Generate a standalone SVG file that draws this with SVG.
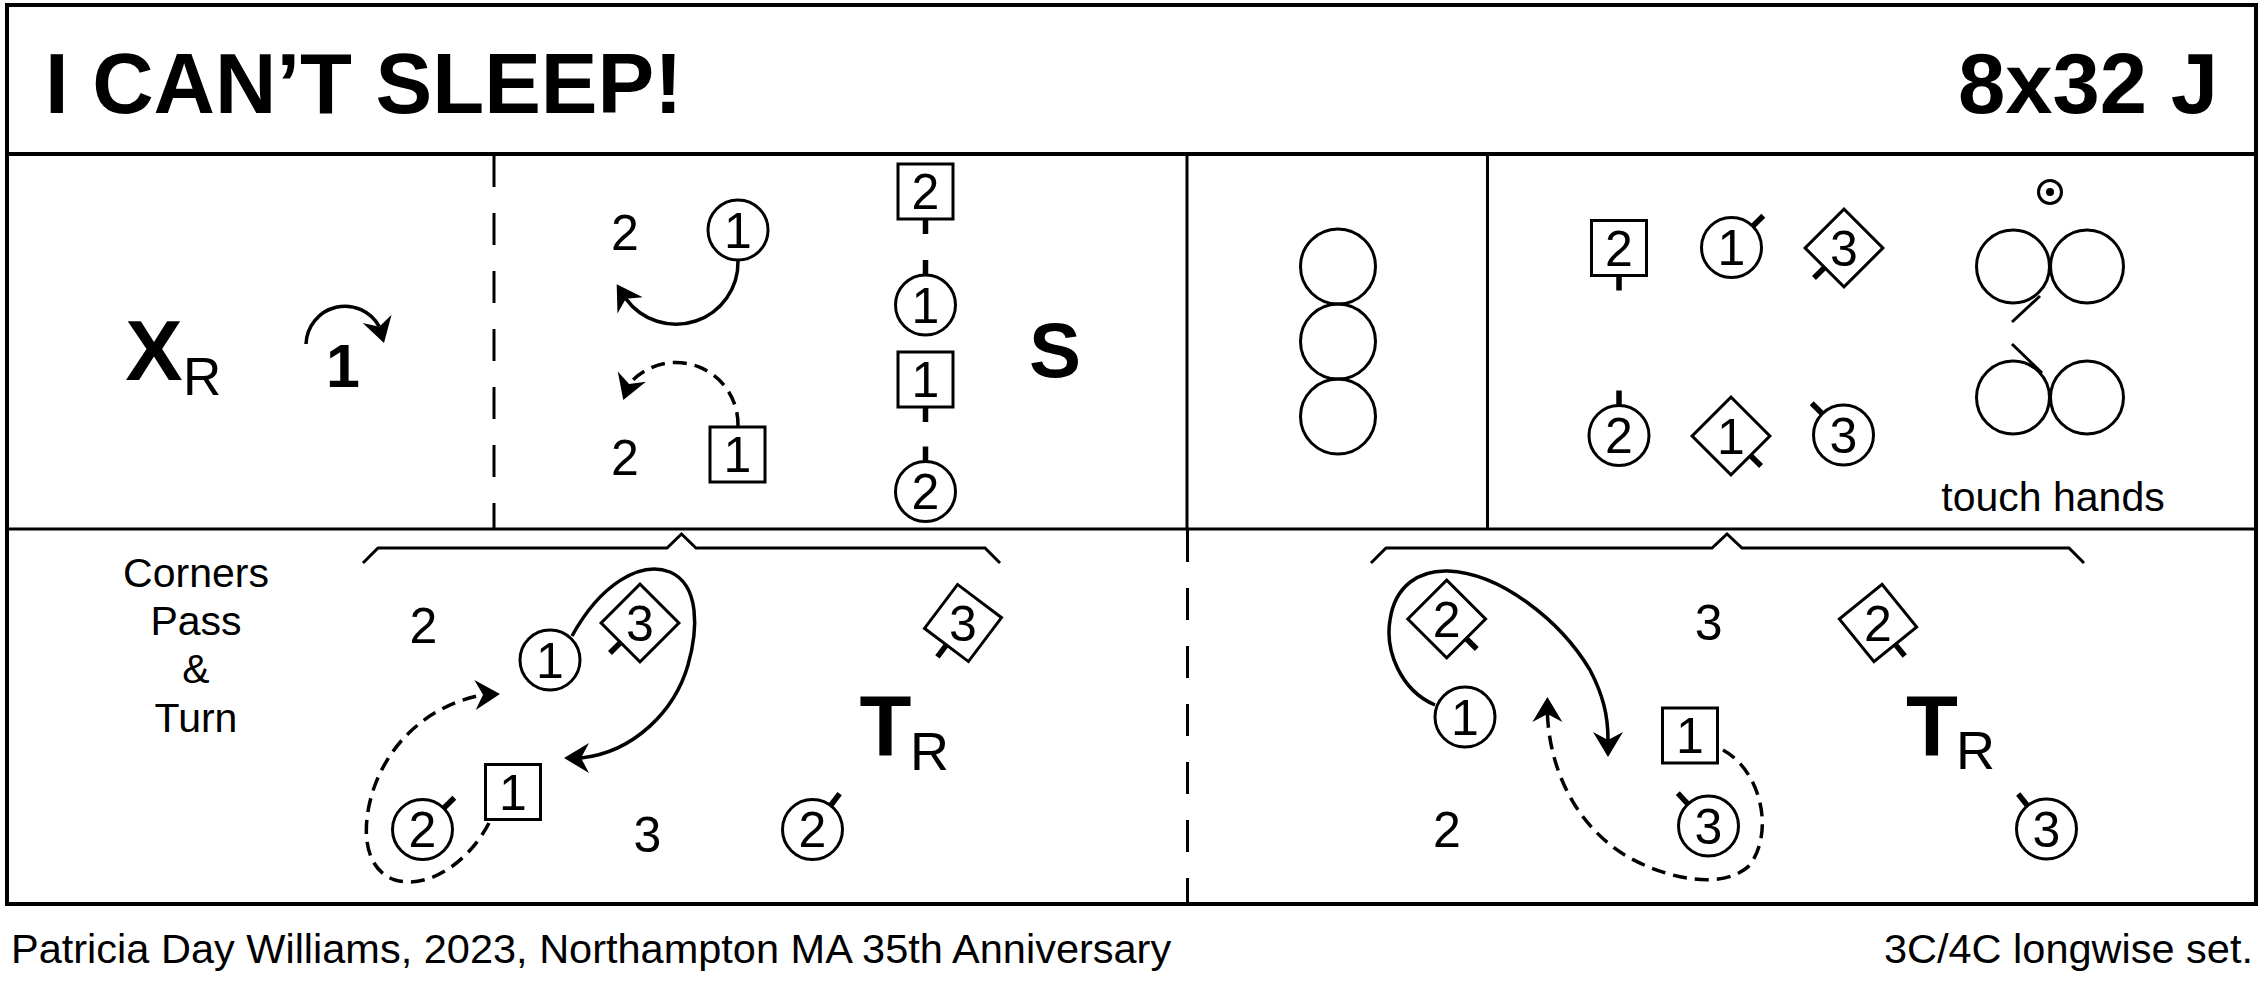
<svg xmlns="http://www.w3.org/2000/svg" xmlns:xlink="http://www.w3.org/1999/xlink" width="2267" height="988" viewBox="0 0 2267 988">
<style>
text{font-family:"Liberation Sans",Arial,Helvetica,sans-serif;fill:#000}
.frame{stroke:#000;stroke-width:4;fill:none}
.div{stroke:#000;stroke-width:3;fill:none}
.vdash{stroke:#000;stroke-width:3;stroke-dasharray:32 26;fill:none}
.sh{stroke:#000;stroke-width:3;fill:#fff}
.ring{stroke:#000;stroke-width:3;fill:none}
.stub{stroke:#000;stroke-width:5.5}
.dig{font-size:50px;text-anchor:middle}
.arr{stroke:#000;stroke-width:3.5;fill:none}
.dash{stroke-dasharray:14 8}
.brace{stroke:#000;stroke-width:3;fill:none}
.lbl{font-size:41px;text-anchor:middle}
.big{font-weight:bold;text-anchor:middle}
</style>
<defs>
<path id="ah" d="M0,0 L-25,-15 L-17,0 L-25,15 Z" fill="#000"/>
</defs>
<rect width="2267" height="988" fill="#fff"/>
<g id="frame">
<rect class="frame" x="7" y="5" width="2249" height="899"/>
<line class="frame" x1="7" y1="154" x2="2256" y2="154"/>
<line class="div" x1="7" y1="529" x2="2256" y2="529"/>
<line class="vdash" x1="494" y1="155" x2="494" y2="529"/>
<line class="div" x1="1187" y1="154" x2="1187" y2="529"/>
<line class="div" x1="1487.5" y1="154" x2="1487.5" y2="529"/>
<line class="vdash" x1="1187.5" y1="530" x2="1187.5" y2="904"/>
</g>
<g id="header">
<text x="45" y="113" font-size="85" font-weight="bold">I CAN’T SLEEP!</text>
<text x="2218" y="113" font-size="85" font-weight="bold" text-anchor="end">8x32 J</text>
</g>
<g id="footer">
<text x="11" y="963" font-size="41.5">Patricia Day Williams, 2023, Northampton MA 35th Anniversary</text>
<text x="2253" y="963" font-size="41.5" text-anchor="end">3C/4C longwise set.</text>
</g>

<!-- Row 1 panel 1 -->
<g id="xr">
<text class="big" x="154" y="380" font-size="86">X</text>
<text x="183" y="395" font-size="53">R</text>
</g>
<g id="turn1">
<text class="big" x="343" y="387" font-size="61">1</text>
</g>

<!-- Row 1 panel 2 -->
<g id="r1p2-2a"><text class="dig" x="625" y="250">2</text></g>
<g id="r1p2-c1"><circle class="sh" cx="738" cy="230" r="30"/><text class="dig" x="738" y="248">1</text></g>
<g id="r1p2-2b"><text class="dig" x="625" y="475">2</text></g>
<g id="r1p2-s1"><rect class="sh" x="710" y="427" width="55" height="55"/><text class="dig" x="737.5" y="472.4">1</text></g>
<g id="r1p2-col-s2"><rect class="sh" x="898" y="164" width="55" height="55"/><line class="stub" x1="925.5" y1="219" x2="925.5" y2="234"/><text class="dig" x="925.5" y="209.4">2</text></g>
<g id="r1p2-col-c1"><circle class="sh" cx="925.5" cy="305" r="30"/><line class="stub" x1="925.5" y1="275" x2="925.5" y2="260"/><text class="dig" x="925.5" y="322.9">1</text></g>
<g id="r1p2-col-s1"><rect class="sh" x="898" y="352" width="55" height="55"/><line class="stub" x1="925.5" y1="407" x2="925.5" y2="422"/><text class="dig" x="925.5" y="397.4">1</text></g>
<g id="r1p2-col-c2"><circle class="sh" cx="925.5" cy="491.5" r="30"/><line class="stub" x1="925.5" y1="461.5" x2="925.5" y2="446.5"/><text class="dig" x="925.5" y="509.4">2</text></g>
<g id="setS"><text class="big" x="1055" y="377" font-size="78">S</text></g>

<!-- Row 1 panel 3 -->
<g id="r1p3-circles">
<circle class="ring" cx="1338" cy="266.5" r="37.5"/>
<circle class="ring" cx="1338" cy="341.5" r="37.5"/>
<circle class="ring" cx="1338" cy="416.5" r="37.5"/>
</g>

<!-- Row 1 panel 4 -->
<g id="r1p4-s2"><rect class="sh" x="1591.5" y="220.5" width="55" height="55"/><line class="stub" x1="1619" y1="275.5" x2="1619" y2="290.5"/><text class="dig" x="1619" y="265.9">2</text></g>
<g id="r1p4-c1"><circle class="sh" cx="1731.5" cy="247.5" r="30"/><line class="stub" x1="1752.7" y1="226.3" x2="1763.3" y2="215.7"/><text class="dig" x="1731.5" y="265.4">1</text></g>
<g id="r1p4-d3" transform="translate(1844 248)"><g transform="rotate(45)"><rect class="sh" x="-27.5" y="-27.5" width="55" height="55"/><line class="stub" x1="0" y1="27.5" x2="0" y2="42.5"/></g><text class="dig" x="0" y="17.9">3</text></g>
<g id="r1p4-c2"><circle class="sh" cx="1619" cy="435.5" r="30"/><line class="stub" x1="1619" y1="405.5" x2="1619" y2="390.5"/><text class="dig" x="1619" y="453.4">2</text></g>
<g id="r1p4-d1" transform="translate(1731 436)"><g transform="rotate(-45)"><rect class="sh" x="-27.5" y="-27.5" width="55" height="55"/><line class="stub" x1="0" y1="27.5" x2="0" y2="42.5"/></g><text class="dig" x="0" y="17.9">1</text></g>
<g id="r1p4-c3"><circle class="sh" cx="1843.5" cy="435" r="30"/><line class="stub" x1="1822.3" y1="413.8" x2="1811.7" y2="403.2"/><text class="dig" x="1843.5" y="452.9">3</text></g>
<g id="dot"><circle class="ring" cx="2050" cy="192" r="11.5"/><circle cx="2050" cy="192" r="4" fill="#000"/></g>
<g id="touch-top">
<circle class="ring" cx="2013" cy="266.5" r="36.5"/>
<circle class="ring" cx="2087" cy="266.5" r="36.5"/>
<line class="div" x1="2040" y1="296" x2="2012" y2="322"/>
</g>
<g id="touch-bottom">
<circle class="ring" cx="2013" cy="397.5" r="36.5"/>
<circle class="ring" cx="2087" cy="397.5" r="36.5"/>
<line class="div" x1="2012" y1="344" x2="2042" y2="373"/>
</g>
<g id="touch-label"><text class="lbl" x="2053" y="511">touch hands</text></g>

<!-- Row 2 panel 1 -->
<g id="cpt-label">
<text class="lbl" x="196" y="587">Corners</text>
<text class="lbl" x="196" y="635">Pass</text>
<text class="lbl" x="196" y="683">&amp;</text>
<text class="lbl" x="196" y="732">Turn</text>
</g>
<g id="brace1"><path class="brace" d="M363 563 L378 548 L667 548 L681.5 534 L696 548 L985 548 L1000 563"/></g>
<g id="r2p1-2"><text class="dig" x="423.5" y="643">2</text></g>
<g id="r2p1-c1"><circle class="sh" cx="550" cy="660" r="30"/><text class="dig" x="550" y="677.9">1</text></g>
<g id="r2p1-d3" transform="translate(640 623)"><g transform="rotate(45)"><rect class="sh" x="-27.5" y="-27.5" width="55" height="55"/><line class="stub" x1="0" y1="27.5" x2="0" y2="42.5"/></g><text class="dig" x="0" y="17.9">3</text></g>
<g id="r2p1-s1"><rect class="sh" x="485.5" y="764.5" width="55" height="55"/><text class="dig" x="513" y="809.9">1</text></g>
<g id="r2p1-c2"><circle class="sh" cx="422.5" cy="829.5" r="30"/><line class="stub" x1="443.7" y1="808.3" x2="454.3" y2="797.7"/><text class="dig" x="422.5" y="847.4">2</text></g>
<g id="r2p1-3"><text class="dig" x="647.5" y="852">3</text></g>
<g id="r2p1-d3b" transform="translate(963 623)"><g transform="rotate(37)"><rect class="sh" x="-27.5" y="-27.5" width="55" height="55"/><line class="stub" x1="0" y1="27.5" x2="0" y2="42.5"/></g><text class="dig" x="0" y="17.9">3</text></g>
<g id="r2p1-c2b"><circle class="sh" cx="812.5" cy="829.5" r="30"/><line class="stub" x1="830.6" y1="805.5" x2="839.6" y2="793.6"/><text class="dig" x="812.5" y="847.4">2</text></g>
<g id="tr1"><text class="big" x="885.5" y="755" font-size="85">T</text><text x="910" y="770" font-size="54">R</text></g>

<!-- Row 2 panel 2 -->
<g id="brace2"><path class="brace" d="M1371 563 L1386 548 L1712 548 L1727 534 L1742 548 L2069 548 L2084 563"/></g>
<g id="r2p2-d2" transform="translate(1446.7 619)"><g transform="rotate(-45)"><rect class="sh" x="-27.5" y="-27.5" width="55" height="55"/><line class="stub" x1="0" y1="27.5" x2="0" y2="42.5"/></g><text class="dig" x="0" y="17.9">2</text></g>
<g id="r2p2-3"><text class="dig" x="1708.6" y="640">3</text></g>
<g id="r2p2-c1"><circle class="sh" cx="1465" cy="717" r="30"/><text class="dig" x="1465" y="734.9">1</text></g>
<g id="r2p2-s1"><rect class="sh" x="1662.5" y="708" width="55" height="55"/><text class="dig" x="1690" y="753.4">1</text></g>
<g id="r2p2-c3"><circle class="sh" cx="1708.5" cy="826" r="30"/><line class="stub" x1="1688" y1="804.1" x2="1677.8" y2="793.1"/><text class="dig" x="1708.5" y="843.9">3</text></g>
<g id="r2p2-2"><text class="dig" x="1447" y="847">2</text></g>
<g id="r2p2-d2b" transform="translate(1878 623)"><g transform="rotate(-39)"><rect class="sh" x="-27.5" y="-27.5" width="55" height="55"/><line class="stub" x1="0" y1="27.5" x2="0" y2="42.5"/></g><text class="dig" x="0" y="17.9">2</text></g>
<g id="r2p2-c3b"><circle class="sh" cx="2046.5" cy="829" r="30"/><line class="stub" x1="2027.6" y1="805.7" x2="2018.2" y2="794"/><text class="dig" x="2046.5" y="846.9">3</text></g>
<g id="tr2"><text class="big" x="1932" y="755" font-size="85">T</text><text x="1956" y="769" font-size="54">R</text></g>

<!-- Connectors -->
<g id="connectors">
<path class="arr" d="M306 344 A39 39 0 0 1 379.3 326.7"/>
<use xlink:href="#ah" href="#ah" transform="translate(384 343) rotate(74)"/>
<path class="arr" d="M738 261 A62 62 0 0 1 625.8 298.6"/>
<use xlink:href="#ah" href="#ah" transform="translate(616.7 284.3) rotate(-122.5)"/>
<path class="arr dash" d="M738 426 A62 62 0 0 0 629.1 384"/>
<use xlink:href="#ah" href="#ah" transform="translate(623.3 400) rotate(110)"/>
<path class="arr" d="M572 636 C600 585 640 560 670 572 C700 585 698 630 688 665 C675 710 635 752 581 758"/>
<use xlink:href="#ah" href="#ah" transform="translate(564 758) rotate(180)"/>
<path class="arr dash" d="M489 823 C470 860 430 890 395 880 C360 868 362 820 375 785 C392 740 430 705 483 694.7"/>
<use xlink:href="#ah" href="#ah" transform="translate(500 694) rotate(-2.5)"/>
<path class="arr" d="M1435 705 C1400 690 1385 650 1390 620 C1395 585 1420 570 1448 571 C1500 573 1560 620 1590 670 C1603 695 1608 715 1608 740"/>
<use xlink:href="#ah" href="#ah" transform="translate(1608 757) rotate(90)"/>
<path class="arr dash" d="M1723 750 C1760 770 1775 830 1750 865 C1725 890 1670 880 1630 858 C1580 830 1550 775 1547.4 714"/>
<use xlink:href="#ah" href="#ah" transform="translate(1547.4 697) rotate(-90)"/>
</g>
</svg>
